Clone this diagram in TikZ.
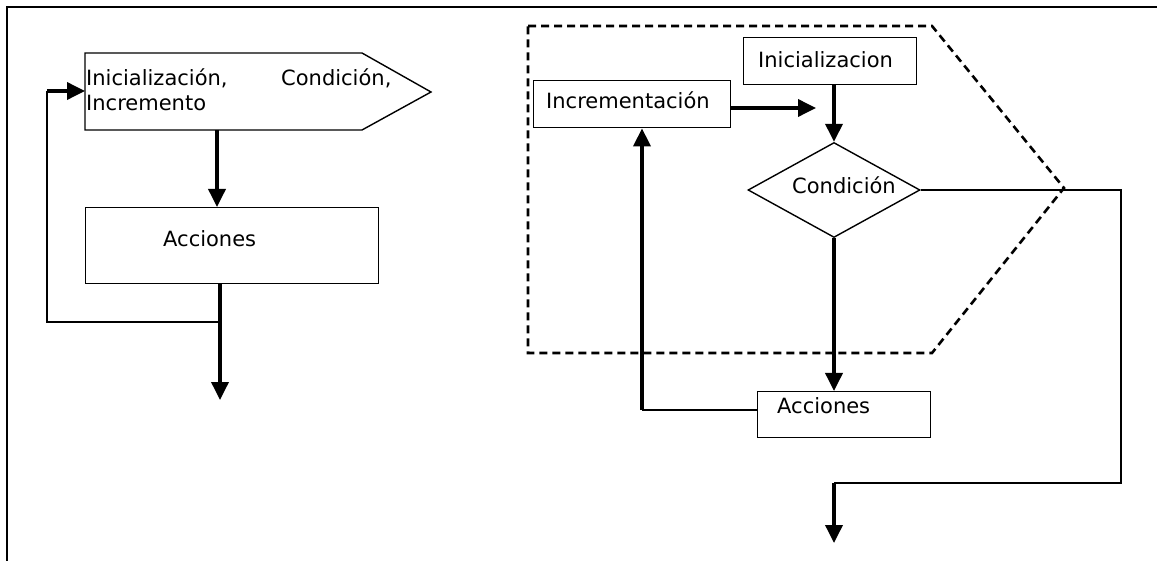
\documentclass[tikz,border=0pt]{standalone}
\usepackage{fontspec}
\setmainfont{DejaVu Sans}
\usetikzlibrary{arrows.meta,shapes.geometric}
\begin{document}
\begin{tikzpicture}[x=1pt,y=-1pt,
  box/.style={draw, line width=1.4pt, rectangle, inner sep=0pt, anchor=north west},
  lbl/.style={anchor=base west, inner sep=0pt, font=\fontsize{21}{25}\selectfont},
  thk/.style={line width=3.6pt},
  thn/.style={line width=1.8pt},
  arr/.style={thk, -{Triangle[length=18pt,width=17pt]}},
  dashbox/.style={line width=2.6pt, dash pattern=on 8pt off 5pt},
  ]
\useasboundingbox (0,0) rectangle (1157,561);
% outer frame
\draw[line width=1.4pt] (7,561) -- (7,7) -- (1157,7);

% ---------- left diagram ----------
\draw[line width=1.4pt] (85,53) -- (362,53) -- (431,92) -- (362,130) -- (85,130) -- cycle;
\coordinate (pentS) at (217,130);
\coordinate (pentW) at (85,91);
\node[lbl] (t1) at (86,86) {Inicialización,};
\node[lbl] (t2) at (281,86) {Condición,};
\node[lbl] (t3) at (86,111) {Incremento};

\node[box, minimum width=293pt, minimum height=76pt] (acc1) at (85,207) {};
\node[lbl] (t4) at (163,247) {Acciones};
\coordinate (j1) at (220,322);
\coordinate (out1) at (220,400);
\coordinate (c1) at (47,322);
\coordinate (c2) at (47,91);
\draw[arr] (pentS) -- (pentS |- acc1.north);
\draw[arr] (acc1.south -| j1) -- (out1);
\draw[thn] (j1) -- (c1) -- (c2);
\draw[arr] (c2) -- (pentW);

% ---------- right diagram ----------
\draw[dashbox] (528,26) -- (932,26) -- (1064,188) -- (932,353) -- (528,353) -- cycle;
\node[box, minimum width=197pt, minimum height=47pt] (incr) at (533,80) {};
\node[box, minimum width=173pt, minimum height=47pt] (init) at (743,37) {};
\node[draw, diamond, line width=1.4pt, minimum width=172pt, minimum height=95pt, inner sep=0pt] (cond) at (834,190) {};
\node[box, minimum width=173pt, minimum height=46pt] (acc2) at (757,391) {};
\node[lbl] (t5) at (546,109) {Incrementación};
\node[lbl] (t6) at (758,68) {Inicializacion};
\node[lbl] (t7) at (792,194) {Condición};
\node[lbl] (t8) at (777,413) {Acciones};

\coordinate (incrOut) at (816,108);
\coordinate (c3) at (642,410);
\coordinate (c4) at (1121,190);
\coordinate (c5) at (1121,483);
\coordinate (c6) at (834,483);
\coordinate (out2) at (834,543);
\draw[arr] (init.south -| cond.north) -- (cond.north);
\draw[arr] (incr.east |- incrOut) -- (incrOut);
\draw[arr] (cond.south) -- (cond.south |- acc2.north);
\draw[thn] (acc2.west |- c3) -- (c3);
\draw[arr] (c3) -- (c3 |- incr.south);
\draw[thn] (cond.east) -- (c4) -- (c5) -- (c6);
\draw[arr] (c6) -- (out2);
\end{tikzpicture}
\end{document}
